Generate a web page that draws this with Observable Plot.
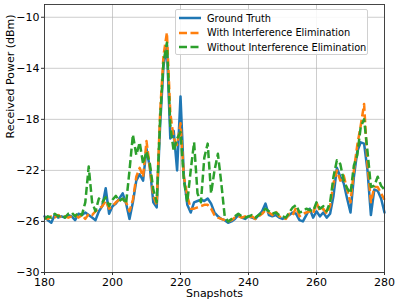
<!DOCTYPE html>
<html>
<head>
<meta charset="utf-8">
<script src="https://cdn.jsdelivr.net/npm/d3@7"></script>
<script src="https://cdn.jsdelivr.net/npm/@observablehq/plot@0.6"></script>
<style>
  html, body { margin: 0; padding: 0; background: #fff; }
  #wrap { position: relative; width: 399px; height: 306px; font-family: "DejaVu Sans", sans-serif; }
  #legend { position: absolute; left: 175px; top: 9px; width: 193px; height: 46px; box-sizing: border-box;
    border: 1px solid #d0d0d0; border-radius: 2px; background: rgba(255,255,255,0.85);
    font-size: 9.8px; color: #000; padding-top: 1px; white-space: nowrap; }
  .row { display: flex; align-items: center; height: 14.5px; }
  .row svg { margin-left: 3px; margin-right: 6px; flex: none; }
</style>
</head>
<body>
<div id="wrap"><div id="chart"></div><div id="legend"></div></div>
<script>
const snapshots = d3.range(180, 281);
const xTicks = [180, 200, 220, 240, 260, 280];
const yTicks = [-30, -26, -22, -18, -14, -10];
const seriesNames = ["Ground Truth", "With Interference Elimination", "Without Interference Elimination"];
const seriesColors = ["#1f77b4", "#ff7f0e", "#2ca02c"];

const groundTruth = [
-25.6,-25.9,-26.1,-25.5,-25.7,-25.6,-25.7,-25.5,-25.6,-25.9,
-25.4,-25.5,-25.3,-25.5,-25.7,-25.9,-25.2,-24.8,-23.4,-25.4,
-24.8,-24.6,-24.2,-23.8,-24.6,-25.8,-24.5,-22.8,-22.3,-22.8,
-20.3,-21.8,-24.5,-24.9,-18.5,-13.8,-12.2,-19.5,-18.9,-22.0,
-16.2,-22.5,-24.7,-25.3,-24.5,-24.4,-24.3,-24.4,-24.2,-24.6,
-25.3,-25.6,-25.8,-25.9,-26.1,-26.0,-25.8,-25.5,-25.7,-25.8,
-25.6,-25.7,-25.8,-25.5,-25.2,-24.6,-25.5,-25.6,-25.5,-25.7,
-25.8,-25.7,-25.5,-25.3,-25.4,-25.9,-26.0,-25.5,-25.0,-25.7,
-25.2,-25.6,-25.3,-25.7,-25.4,-24.0,-21.8,-22.5,-23.0,-24.2,
-25.3,-22.5,-20.5,-19.8,-19.9,-22.0,-25.5,-23.5,-23.6,-24.2,
-25.3];
const withElimination = [
-25.7,-25.8,-25.6,-25.7,-25.5,-25.7,-25.6,-25.7,-25.6,-25.5,
-25.7,-25.5,-25.8,-25.4,-25.5,-25.2,-25.0,-24.8,-24.4,-25.0,
-24.8,-24.5,-24.3,-24.2,-24.5,-25.2,-24.3,-22.5,-21.8,-22.5,
-19.7,-21.8,-24.0,-24.7,-17.5,-13.0,-11.2,-17.5,-19.5,-20.0,
-18.3,-22.5,-24.0,-25.0,-25.0,-24.9,-24.8,-24.7,-24.7,-25.0,
-25.5,-25.7,-25.8,-25.9,-26.0,-25.9,-25.7,-25.6,-25.7,-25.6,
-25.7,-25.6,-25.8,-25.6,-25.4,-25.1,-25.3,-25.5,-25.2,-25.6,
-25.7,-25.8,-25.4,-25.5,-24.9,-25.6,-25.4,-25.3,-25.2,-25.4,
-24.5,-25.2,-25.0,-25.4,-24.8,-23.0,-22.0,-22.8,-22.4,-23.5,
-24.5,-22.0,-20.0,-18.5,-16.8,-21.5,-24.5,-23.3,-23.3,-23.8,
-24.3];
const withoutElimination = [
-25.8,-25.6,-25.7,-25.4,-25.6,-25.5,-25.7,-25.4,-25.3,-25.6,
-25.3,-25.5,-24.5,-21.7,-24.5,-25.2,-24.2,-24.5,-24.1,-24.8,
-24.3,-24.0,-24.4,-24.2,-24.6,-22.0,-19.2,-20.8,-19.8,-21.5,
-20.5,-21.5,-23.5,-24.5,-18.0,-13.5,-12.0,-18.5,-20.5,-19.5,
-19.0,-22.8,-24.5,-22.0,-19.8,-23.8,-24.5,-21.0,-19.9,-23.8,
-22.0,-20.7,-23.0,-25.6,-26.0,-25.8,-25.6,-25.4,-25.6,-25.7,
-25.6,-25.5,-25.7,-25.5,-25.3,-25.0,-25.2,-25.4,-25.3,-25.5,
-25.6,-25.7,-25.3,-24.9,-24.7,-25.3,-25.2,-25.0,-25.1,-25.2,
-24.5,-25.0,-24.8,-25.2,-24.5,-22.5,-21.2,-21.5,-22.8,-23.4,
-23.8,-21.6,-20.8,-18.6,-18.0,-20.5,-23.3,-23.2,-22.5,-23.2,
-23.5];

const allSeries = [groundTruth, withElimination, withoutElimination];
const rows = allSeries.flatMap((vals, k) => vals.map((v, i) => ({x: snapshots[i], y: v, k})));
const dashes = [null, "8,3.5", "8,3.5"];

const chart = Plot.plot({
  width: 399, height: 306,
  marginLeft: 44, marginRight: 15, marginTop: 4, marginBottom: 34,
  style: {fontFamily: "DejaVu Sans, sans-serif", fontSize: "11px", background: "#fff", color: "#000", overflow: "visible"},
  x: {domain: [180, 280]},
  y: {domain: [-30, -9]},
  marks: [
    Plot.gridX(xTicks, {stroke: "#b0b0b0", strokeOpacity: 0.8, strokeWidth: 0.8}),
    Plot.gridY(yTicks, {stroke: "#b0b0b0", strokeOpacity: 0.8, strokeWidth: 0.8}),
    ...[0, 1, 2].map(k => Plot.line(rows.filter(d => d.k === k), {
      x: "x", y: "y", stroke: seriesColors[k], strokeWidth: 2.5,
      strokeDasharray: dashes[k], strokeLinejoin: "round", strokeLinecap: k === 0 ? "round" : "butt"
    })),
    Plot.frame({stroke: "#333", strokeWidth: 0.9}),
    Plot.axisX(xTicks, {tickSize: 3, tickPadding: 2.5, fontSize: 11, label: null, tickFormat: d => String(d), stroke: "#333"}),
    Plot.axisY(yTicks, {tickSize: 3, tickPadding: 2, fontSize: 11, label: null, tickFormat: d => (d < 0 ? "\u2212" : "") + Math.abs(d), stroke: "#333"}),
    Plot.text(["Snapshots"], {frameAnchor: "bottom", dy: 24, fontSize: 11, text: d => d}),
    Plot.text(["Received Power (dBm)"], {frameAnchor: "left", dx: -34, rotate: -90, fontSize: 11, text: d => d})
  ]
});
document.getElementById("chart").appendChild(chart);

const legend = document.getElementById("legend");
seriesNames.forEach((name, k) => {
  const row = document.createElement("div");
  row.className = "row";
  row.innerHTML = `<svg width="22" height="6"><line x1="0" x2="22" y1="3" y2="3" stroke="${seriesColors[k]}" stroke-width="2.5" ${dashes[k] ? `stroke-dasharray="${dashes[k]}"` : ""}/></svg><span>${name}</span>`;
  legend.appendChild(row);
});
</script>
</body>
</html>
